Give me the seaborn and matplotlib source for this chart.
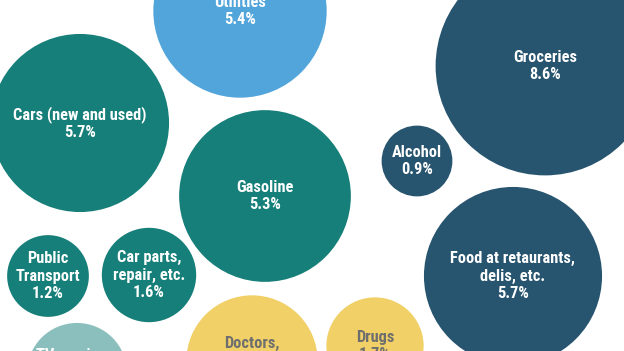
import matplotlib
matplotlib.use('Agg')
import matplotlib.pyplot as plt
from matplotlib import font_manager
import seaborn as sns
import pandas as pd

# spending categories (share of total spending, %)
labels = ['Utilities', 'Cars (new and used)', 'Gasoline', 'Alcohol', 'Groceries',
          'Food at retaurants,\ndelis, etc.', 'Public\nTransport', 'Car parts,\nrepair, etc.',
          'TV services,\ncable, etc.', 'Doctors,\nhospitals', 'Drugs']
shares = [5.4, 5.7, 5.3, 0.9, 8.6, 5.7, 1.2, 1.6, 1.8, 3.1, 1.7]
groups = ['Housing', 'Transportation', 'Transportation', 'Food', 'Food',
          'Food', 'Transportation', 'Transportation', 'Entertainment', 'Health', 'Health']

# bubble layout (pixel positions of the packed bubbles)
pos_x = [240, 80, 265, 417, 545, 513, 48, 149, 77, 252, 375]
pos_y = [11, 123, 196, 161, 66, 276, 276, 275, 373, 361, 346]

colors = {'Housing': '#52a5db', 'Transportation': '#177f79', 'Food': '#27546e',
          'Health': '#f0d067', 'Entertainment': '#8bbfbd'}
text_colors = {'Housing': 'white', 'Transportation': 'white', 'Food': 'white',
               'Health': '#6e6e6e', 'Entertainment': 'white'}

df = pd.DataFrame({'label': labels, 'share': shares, 'group': groups, 'x': pos_x, 'y': pos_y})

sns.set_style('white')


# pick the narrowest reasonable bold face that is installed
def width_rank(f):
    name = f.name.replace(' ', '').lower()
    fn = f.fname.replace(' ', '').lower()
    if 'semicondensed' in name or 'semicondensed' in fn or f.stretch == 'semi-condensed':
        return 2
    if 'extracondensed' in name or 'extracondensed' in fn or f.stretch == 'extra-condensed':
        return 3
    if 'condensed' in name or 'condensed' in fn or 'narrow' in name or f.stretch == 'condensed':
        return 1
    return 9


cands = [f for f in font_manager.fontManager.ttflist
         if f.weight in ('bold', 700) and f.style == 'normal' and width_rank(f) < 9]
cands.sort(key=lambda f: (width_rank(f), 'roboto' not in f.name.lower()))
if cands:
    size = {1: 11.8, 2: 10, 3: 12.5}[width_rank(cands[0])]
    font_kw = dict(fontproperties=font_manager.FontProperties(fname=cands[0].fname, size=size))
else:
    plt.rcParams['font.family'] = ['Liberation Sans', 'DejaVu Sans']
    font_kw = dict(fontsize=10, fontweight='bold')

fig = plt.figure(figsize=(6.24, 3.51), dpi=100)
ax = fig.add_axes([0, 0, 1, 1])

# area proportional to share
k = 2885
sns.scatterplot(data=df, x='x', y='y', size='share', sizes=(0, k * 8.6), size_norm=(0, 8.6),
                hue='group', palette=colors, linewidth=0, legend=False, ax=ax, alpha=1)

for _, row in df.iterrows():
    ax.text(row['x'], row['y'], f"{row['label']}\n{row['share']:.1f}%", ha='center', va='center',
            color=text_colors[row['group']], linespacing=1.2, **font_kw)

ax.set_xlim(0, 624)
ax.set_ylim(351, 0)
ax.set_axis_off()

fig.savefig('out.png', dpi=100)
